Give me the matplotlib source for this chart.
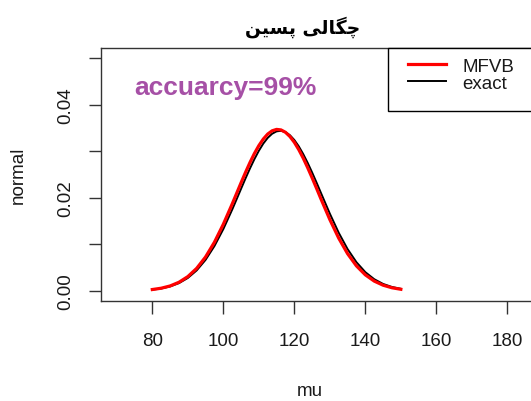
import matplotlib
matplotlib.use("Agg")
import matplotlib.pyplot as plt
from matplotlib.lines import Line2D
from matplotlib.patches import Rectangle

# ---- data ----
mu = [80, 82.5, 85, 87.5, 90, 92.5, 95, 97.5, 100, 102.5, 103.75, 105, 106.25,
      107.5, 108.75, 110, 111.25, 112.5, 113.75, 115, 116.25, 117.5, 118.75,
      120, 121.25, 122.5, 123.75, 125, 126.25, 127.5, 130, 132.5, 135, 137.5,
      140, 142.5, 145, 147.5, 150]
mfvb = [0.000312, 0.000594, 0.001078, 0.001868, 0.003085, 0.004860, 0.007302,
        0.01047, 0.01432, 0.01867, 0.02095, 0.02323, 0.02545, 0.02756, 0.02950,
        0.03119, 0.03260, 0.03368, 0.03438, 0.03468, 0.03457, 0.03406, 0.03316,
        0.03191, 0.03034, 0.02852, 0.02648, 0.02431, 0.02205, 0.01976, 0.01533,
        0.01134, 0.00800, 0.00538, 0.00346, 0.00212, 0.00124, 0.000688, 0.000366]
exact = [0.000279, 0.000531, 0.000967, 0.001681, 0.002790, 0.004419, 0.006679,
         0.009643, 0.01328, 0.01747, 0.01969, 0.02194, 0.02416, 0.02629, 0.02829,
         0.03008, 0.03163, 0.03286, 0.03375, 0.03426, 0.03438, 0.03410, 0.03344,
         0.03241, 0.03104, 0.02939, 0.02751, 0.02545, 0.02328, 0.02104, 0.01660,
         0.01250, 0.00899, 0.00617, 0.00404, 0.00253, 0.00151, 0.000861, 0.000469]
xticks = [80, 100, 120, 140, 160, 180]
yticks = [0.00, 0.01, 0.02, 0.03, 0.04, 0.05]
ytick_labels = ["0.00", "", "0.02", "", "0.04", ""]
series_names = ["MFVB", "exact"]
title_logical = "چگالی پسین"
# visual-order, pre-shaped presentation forms of the title (matplotlib has no Arabic shaping)
title_shaped = "\uFEE6\uFBFF\uFEB4\uFB58 \uFBFD\uFEDF\uFE8E\uFB95\uFB7C"
note = "accuarcy=99%"

plt.rcParams['font.family'] = ['Liberation Sans', 'DejaVu Sans']

W, H = 531, 402
fig = plt.figure(figsize=(W / 100, H / 100), dpi=100)
ax = fig.add_axes([101 / W, (H - 302) / H, (534 - 101) / W, (302 - 49) / H])

ax.plot(mu, exact, color='black', lw=1.4, solid_joinstyle='round')
ax.plot(mu, mfvb, color='#ff0000', lw=2.3, solid_joinstyle='round')

ax.set_xlim(65.55, 187.5)
ax.set_ylim(-0.00215, 0.05215)
ax.set_xticks(xticks)
ax.set_xticklabels([str(t) for t in xticks])
ax.set_yticks(yticks)
ax.set_yticklabels(ytick_labels, rotation=90, va='center')

for s in ax.spines.values():
    s.set_color('#333333')
    s.set_linewidth(1.0)
ax.tick_params(axis='both', direction='out', length=9, width=1.0, color='#333333',
               labelsize=13.5, labelcolor='#1a1a1a')
ax.tick_params(axis='x', pad=13.5)
ax.tick_params(axis='y', pad=10.5)

# legend frame (R style: anchored to the top-right of the plot region)
frame = Rectangle((388 / W, 1 - 112 / H), (540 - 388) / W, (112 - 49) / H,
                  transform=fig.transFigure, facecolor='white', edgecolor='black',
                  linewidth=1.0, zorder=4)
fig.add_artist(frame)
handles = [Line2D([], [], color='#ff0000', lw=2.3), Line2D([], [], color='black', lw=1.4)]
leg = fig.legend(handles, series_names, loc='upper left',
                 bbox_to_anchor=(408 / W, 1 - 58.5 / H), bbox_transform=fig.transFigure,
                 borderaxespad=0, fontsize=13.5, frameon=False,
                 handlelength=2.0, handletextpad=0.9, labelspacing=0.0, borderpad=0.0)
leg.set_zorder(5)
for t in leg.get_texts():
    t.set_color('#1a1a1a')

fig.text(303 / W, 1 - 27 / H, title_shaped, ha='center', va='center', fontsize=13.5,
         fontweight='bold', family=['DejaVu Sans'])
fig.text(225 / W, 1 - 95.5 / H, note, ha='center', va='baseline', fontsize=19,
         fontweight='bold', color='#a650a6')
fig.text(18 / W, 1 - 175.5 / H, "normal", rotation=90, ha='center', va='center',
         fontsize=13.5, color='#1a1a1a')
fig.text(310 / W, 1 - 392 / H, "mu", ha='center', va='center', fontsize=13.5,
         color='#1a1a1a')

fig.savefig("out.png", dpi=100)
